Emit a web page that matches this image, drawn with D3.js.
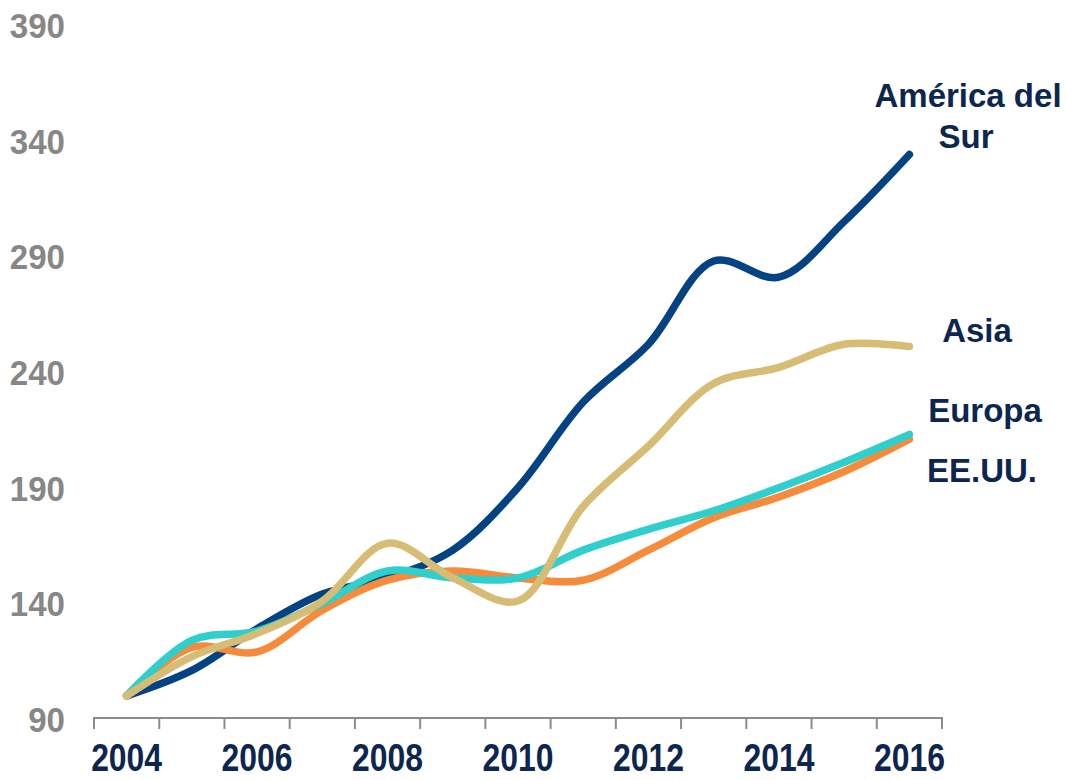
<!DOCTYPE html>
<html>
<head>
<meta charset="utf-8">
<script src="https://cdn.jsdelivr.net/npm/d3@7"></script>
<style>
  html, body { margin: 0; padding: 0; background: #fff; }
  svg { display: block; }
</style>
</head>
<body>
<svg id="chart" width="1066" height="780"></svg>
<script>
const years = [2004, 2005, 2006, 2007, 2008, 2009, 2010, 2011, 2012, 2013, 2014, 2015, 2016];
const yearLabels = [2004, 2006, 2008, 2010, 2012, 2014, 2016];
const yTicks = [90, 140, 190, 240, 290, 340, 390];

const americaDelSur = [100, 111, 129, 144, 151, 163, 190, 227, 252, 288, 281, 305, 334];
const asia          = [100, 117, 127, 141, 166, 151, 141, 182, 208, 235, 242, 252, 251];
const europa        = [100, 124, 128, 140, 154, 151, 151, 163, 172, 180, 190, 201, 213];
const eeuu          = [100, 121, 119, 137, 150, 154, 151, 150, 163, 177, 186, 197, 211];

const seriesNames = ["América del Sur", "EE.UU.", "Europa", "Asia"];

const svg = d3.select("#chart");

const xBand = d3.scaleBand().domain(years).range([94, 942]).paddingInner(0).paddingOuter(0);
const x = d => xBand(d) + xBand.bandwidth() / 2;
const y = d3.scaleLinear().domain([90, 390]).range([719, 25]);

// X axis line and ticks at band boundaries
const axisG = svg.append("g");
axisG.append("line")
  .attr("x1", xBand.range()[0]).attr("x2", xBand.range()[1])
  .attr("y1", 718).attr("y2", 718)
  .attr("stroke", "#8c8c8c").attr("stroke-width", 2);
const tickXs = years.map(d => xBand(d)).concat([xBand.range()[1]]);
axisG.selectAll("line.tick").data(tickXs).join("line")
  .attr("class", "tick")
  .attr("x1", d => d).attr("x2", d => d)
  .attr("y1", 717).attr("y2", 729)
  .attr("stroke", "#8c8c8c").attr("stroke-width", 2);

// X labels
svg.append("g").selectAll("text").data(yearLabels).join("text")
  .attr("transform", d => `translate(${x(d)},771) scale(0.84,1)`)
  .attr("text-anchor", "middle")
  .attr("font-family", "'Liberation Sans', Arial, sans-serif")
  .attr("font-weight", "bold")
  .attr("font-size", 38)
  .attr("fill", "#0c2650")
  .text(d => d);

// Y labels
svg.append("g").selectAll("text").data(yTicks).join("text")
  .attr("transform", d => `translate(65,${y(d) + 13}) scale(0.92,1)`)
  .attr("text-anchor", "end")
  .attr("font-family", "'Liberation Sans', Arial, sans-serif")
  .attr("font-weight", "bold")
  .attr("font-size", 36)
  .attr("fill", "#878787")
  .text(d => d);

const line = d3.line()
  .x((d, i) => x(years[i]))
  .y(d => y(d))
  .curve(d3.curveCatmullRom.alpha(0.5));

const series = [
  { name: "América del Sur", values: americaDelSur, color: "#034383" },
  { name: "EE.UU.", values: eeuu, color: "#f68b3b" },
  { name: "Europa", values: europa, color: "#2ecfcc" },
  { name: "Asia", values: asia, color: "#d6bd76" }
];

svg.append("g").selectAll("path").data(series).join("path")
  .attr("d", d => line(d.values))
  .attr("fill", "none")
  .attr("stroke", d => d.color)
  .attr("stroke-width", 7.5)
  .attr("stroke-linecap", "round")
  .attr("stroke-linejoin", "round");

// Series labels
const labels = [
  { lines: ["América del", "Sur"], xs: [968, 966], ys: [107, 148] },
  { lines: ["Asia"], xs: [977], ys: [342] },
  { lines: ["Europa"], xs: [985], ys: [422] },
  { lines: ["EE.UU."], xs: [982], ys: [482] }
];
const lg = svg.append("g");
labels.forEach(l => {
  l.lines.forEach((t, i) => {
    lg.append("text")
      .attr("x", l.xs[i]).attr("y", l.ys[i])
      .attr("text-anchor", "middle")
      .attr("font-family", "'Liberation Sans', Arial, sans-serif")
      .attr("font-weight", "bold")
      .attr("font-size", 33)
      .attr("fill", "#0c2650")
      .text(t);
  });
});
</script>
</body>
</html>
